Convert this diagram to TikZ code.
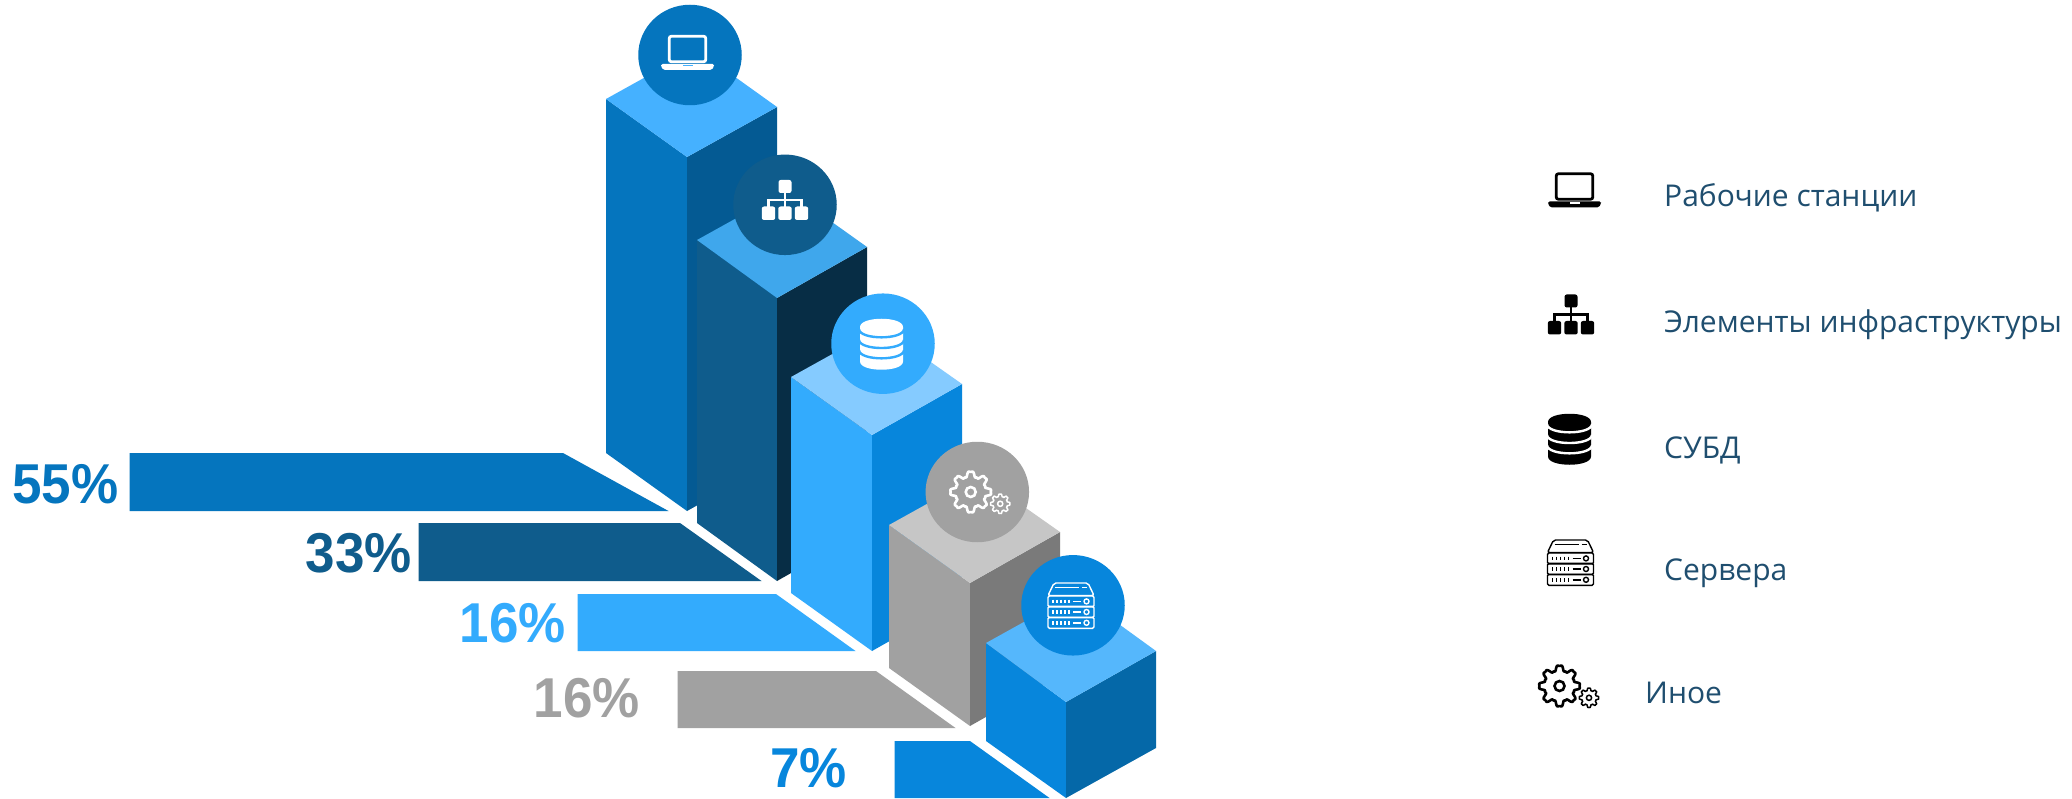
\documentclass[tikz,border=0pt]{standalone}
\usepackage{fontspec}
\usepackage{graphicx}
\usetikzlibrary{shapes.geometric}
\setmainfont{Open Sans}
\newfontfamily\pctfont{Liberation Sans}[Scale=1]
\definecolor{aT}{HTML}{45B1FF}\definecolor{aL}{HTML}{0575BE}\definecolor{aR}{HTML}{045A93}
\definecolor{bT}{HTML}{3FA7EC}\definecolor{bL}{HTML}{0F5C8C}\definecolor{bR}{HTML}{072D45}
\definecolor{cT}{HTML}{85CBFF}\definecolor{cL}{HTML}{33ABFD}\definecolor{cR}{HTML}{0786DC}
\definecolor{dT}{HTML}{C6C6C6}\definecolor{dL}{HTML}{A1A1A1}\definecolor{dR}{HTML}{7A7A7A}
\definecolor{eT}{HTML}{55B7FC}\definecolor{eL}{HTML}{0786DC}\definecolor{eR}{HTML}{0568A8}
\definecolor{legendtext}{HTML}{1F4E6F}
\newcommand{\gearat}[6]{%
  \draw[#6,line width=#5,line join=round] plot[domain=0:360,samples=241]
    ({#1+#3*(0.85+0.14*(cos(8*\x)-cos(24*\x)/4))*cos(\x)},{#2+#3*(0.85+0.14*(cos(8*\x)-cos(24*\x)/4))*sin(\x)}) -- cycle;
  \draw[#6,line width=#5] (#1,#2) circle[radius=#4];}
\newcommand{\pcttext}[1]{\scalebox{1.0}[1.06]{#1}}
\tikzset{
  badge/.style={ellipse,minimum width=103.5pt,minimum height=100.5pt,inner sep=0pt,fill=#1},
  pct/.style={anchor=base east,inner sep=0pt,text=#1,font=\pctfont\bfseries\fontsize{53}{53}\selectfont},
  legendlabel/.style={anchor=base west,inner sep=0pt,text=legendtext,font=\fontsize{30}{36}\selectfont},
  pics/laptopicon/.style 2 args={code={
    \draw[#1,line width=2.8,rounded corners=2] (-18.2,-16.2) rectangle (18.2,9.2);
    \fill[#1,rounded corners=1.5] (-26.5,11.5) -- (26.5,11.5) -- (26.5,14) -- (24,17.5) -- (-24,17.5) -- (-26.5,14) -- cycle;
    \fill[#2] (-5,12.5) rectangle (5,14);
  }},
  pics/orgicon/.style={code={
    \fill[#1,rounded corners=2.2] (-6.5,-20) rectangle (6.5,-7);
    \foreach \q in {-16.5,0,16.5}{\fill[#1,rounded corners=2.2] (\q-6.7,6.5) rectangle (\q+6.7,20);}
    \draw[#1,line width=2.2] (0,-7) -- (0,7) (-16.5,7) -- (-16.5,0) -- (16.5,0) -- (16.5,7);
  }},
  pics/dbicon/.style 2 args={code={
    \fill[#1] (-21.5,-17) .. controls (-21.5,-28) and (21.5,-28) .. (21.5,-17) -- (21.5,17.5)
      .. controls (21.5,28.5) and (-21.5,28.5) .. (-21.5,17.5) -- cycle;
    \foreach \q in {-14.7,-4,6.3}{
      \draw[#2,line width=2.4] (-22.5,\q) .. controls (-21.5,\q+10.7) and (21.5,\q+10.7) .. (22.5,\q);}
  }},
  pics/servericon/.style={code={
    \draw[#1,line width=1.4,rounded corners=2] (-23,-10.5) -- (-17,-23) -- (17,-23) -- (23,-10.5) -- cycle;
    \draw[#1,line width=1.4] (-16,-18.5) -- (8,-18.5) (11,-18.5) -- (16,-18.5);
    \foreach \q in {-4.6,6,16.8}{
      \draw[#1,line width=1.4,rounded corners=1.5] (-23,\q-5.6) rectangle (23,\q+5.6);
      \foreach \p in {-18,-14,-10,-6,-2}{\draw[#1,line width=1.4] (\p,\q-1.7) -- (\p,\q+1.7);}
      \draw[#1,line width=1.4] (2,\q) -- (10,\q);
      \draw[#1,line width=1.4] (15.5,\q) circle[radius=2.5];
    }
  }},
  pics/gearicon/.style={code={
    \gearat{0}{0}{21}{5}{2.6}{#1}
    \gearat{29.5}{11.8}{10}{2.6}{1.5}{#1}
  }},
}
\begin{document}
\begin{tikzpicture}[x=1pt,y=-1pt]
\useasboundingbox (0,0) rectangle (2072,799);
\fill[white] (0,0) rectangle (2072,799);
% bars
\fill[aL] (129.5,453) -- (563,453) -- (668.5,511) -- (129.5,511) -- cycle;
\fill[bL] (418.5,523) -- (680,523) -- (761.5,581) -- (418.5,581) -- cycle;
\fill[cL] (577.5,594) -- (776,594) -- (855.5,651) -- (577.5,651) -- cycle;
\fill[dL] (677.5,671) -- (876,671) -- (955.5,728) -- (677.5,728) -- cycle;
\fill[eL] (894.5,741) -- (970,741) -- (1049.5,798) -- (894.5,798) -- cycle;
% column 1
\fill[aL] (606,99) -- (687,157) -- (687,511) -- (606,453) -- cycle;
\fill[aR] (687,157) -- (777,107) -- (777,461) -- (687,511) -- cycle;
\fill[aT] (606,99) -- (696,49) -- (777,107) -- (687,157) -- cycle;
\node[badge=aL] (c1) at (690,55) {};
\pic at (687.5,52.5) {laptopicon={white}{aT}};
% column 2
\fill[bL] (697,240) -- (777,298) -- (777,581) -- (697,523) -- cycle;
\fill[bR] (777,298) -- (867,247) -- (867,530) -- (777,581) -- cycle;
\fill[bT] (697,240) -- (787,190) -- (867,247) -- (777,298) -- cycle;
\node[badge=bL] (c2) at (785,204.8) {};
\pic at (785,200) {orgicon=white};
% column 3
\fill[cL] (791,377) -- (872,435) -- (872,651) -- (791,593) -- cycle;
\fill[cR] (872,435) -- (962,384) -- (962,600) -- (872,651) -- cycle;
\fill[cT] (791,377) -- (881,327) -- (962,384) -- (872,435) -- cycle;
\node[badge=cL] (c3) at (883,343.7) {};
\pic at (881.5,344) {dbicon={white}{cL}};
% column 4
\fill[dL] (889,525) -- (970,583) -- (970,726) -- (889,668) -- cycle;
\fill[dR] (970,583) -- (1060,532) -- (1060,675) -- (970,726) -- cycle;
\fill[dT] (889,525) -- (979,475) -- (1060,532) -- (970,583) -- cycle;
\node[badge=dL] (c4) at (977.3,492) {};
\pic at (970.7,492) {gearicon=white};
% column 5
\fill[eL] (986,643) -- (1066,702) -- (1066,798) -- (986,741) -- cycle;
\fill[eR] (1066,702) -- (1156,651) -- (1156,748) -- (1066,798) -- cycle;
\fill[eT] (986,643) -- (1076,593) -- (1156,651) -- (1066,702) -- cycle;
\node[badge=eL] (c5) at (1073,605.3) {};
\pic at (1071,606) {servericon=white};
% percentages
\node[pct=aL] (p1) at (118.5,503) {\pcttext{55\%}};
\node[pct=bL] (p2) at (412,572) {\pcttext{33\%}};
\node[pct=cL] (p3) at (566,642) {\pcttext{16\%}};
\node[pct=dL] (p4) at (640,717.5) {\pcttext{16\%}};
\node[pct=eL] (p5) at (847,787.5) {\pcttext{7\%}};
% legend
\pic at (1574.5,190) {laptopicon={black}{white}};
\pic at (1571,314.5) {orgicon=black};
\pic at (1569.5,439) {dbicon={black}{white}};
\pic at (1570.5,563) {servericon=black};
\pic at (1559.5,686) {gearicon=black};
\node[legendlabel] (l1) at (1664,207) {Рабочие станции};
\node[legendlabel] (l2) at (1664,333) {Элементы инфраструктуры};
\node[legendlabel] (l3) at (1664,458) {СУБД};
\node[legendlabel] (l4) at (1664,580) {Сервера};
\node[legendlabel] (l5) at (1645,703) {Иное};
\end{tikzpicture}
\end{document}
